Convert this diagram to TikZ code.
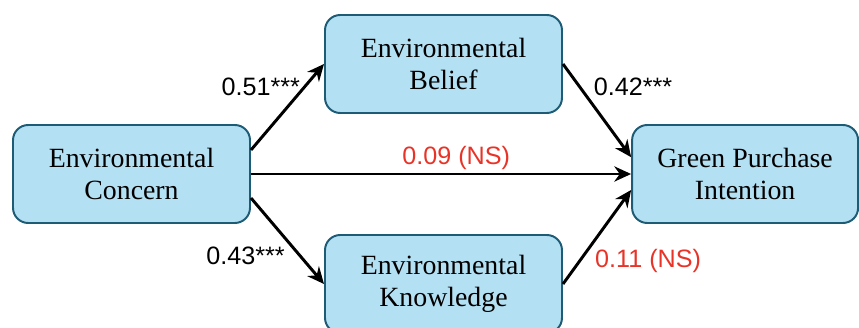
\documentclass[tikz,border=0pt]{standalone}
\usepackage{fontspec}
\setmainfont{Liberation Serif}
\newfontfamily\coeffont{Liberation Sans}
\usepackage{tikz}
\usetikzlibrary{arrows.meta,positioning}
\definecolor{boxblue}{RGB}{180,224,243}
\definecolor{boxedge}{RGB}{30,92,118}
\definecolor{nsred}{RGB}{232,52,40}

\begin{document}
\begin{tikzpicture}[node distance=7.8cm,
  construct/.style={draw=boxedge, line width=1.4pt, fill=boxblue, rounded corners=0.38cm, minimum width=5.925cm, minimum height=2.45cm, align=center, font=\fontsize{19.8}{22.8}\selectfont},
  link/.style={-{Stealth[length=0.42cm,width=0.38cm]}, line width=2.1pt},
  coef/.style={font=\coeffont\fontsize{17.9}{20}\selectfont, inner sep=2pt},
  nscoef/.style={coef, text=nsred}]
        \useasboundingbox (-3.2875,4.35) rectangle (18.1875,-3.85);

        % Predictor
        \node [construct] (concern) {Environmental\\Concern};

        % Mediators
        \node [construct, right of=concern, yshift=2.75cm] (belief) {Environmental\\Belief};
        \node [construct, right of=concern, yshift=-2.75cm] (knowledge) {Environmental\\Knowledge};

        % Outcome
        \node [construct, right of=belief, xshift=-0.26cm, yshift=-2.75cm, minimum width=5.65cm] (intention) {Green Purchase\\Intention};

        % Paths
        \draw [link] ([yshift=0.6cm]concern.east) -- node [coef, pos=0.62, above left, xshift=0.2cm, yshift=-0.08cm] {0.51***} (belief.west);
        \draw [link] ([yshift=-0.6cm]concern.east) -- node [coef, pos=0.52, below left] {0.43***} (knowledge.west);
        \draw [link] (concern.east) -- node [nscoef, pos=0.54, above] {0.09 (NS)} (intention.west);
        \draw [link] (belief.east) -- node [coef, pos=0.39, above right] {0.42***} ([yshift=0.42cm]intention.west);
        \draw [link] (knowledge.east) -- node [nscoef, pos=0.41, below right] {0.11 (NS)} ([yshift=-0.4cm]intention.west);
    \end{tikzpicture}
\end{document}
